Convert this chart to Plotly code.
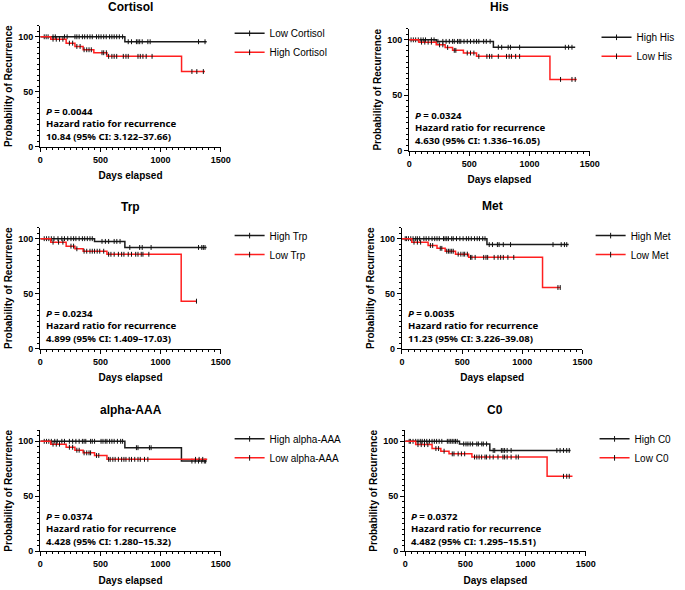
import numpy as np
import plotly.graph_objects as go

# ---------------- data ----------------
titles = ["Cortisol", "His", "Trp", "Met", "alpha-AAA", "C0"]
group_black = ["Low Cortisol", "High His", "High Trp", "High Met", "High alpha-AAA", "High C0"]
group_red = ["High Cortisol", "Low His", "Low Trp", "Low Met", "Low alpha-AAA", "Low C0"]
p_values = ["0.0044", "0.0324", "0.0234", "0.0035", "0.0374", "0.0372"]
hr_text = ["10.84 (95% CI: 3.122–37.66)", "4.630 (95% CI: 1.336–16.05)",
           "4.899 (95% CI: 1.409–17.03)", "11.23 (95% CI: 3.226–39.08)",
           "4.428 (95% CI: 1.280–15.32)", "4.482 (95% CI: 1.295–15.51)"]

# Cortisol
cortisol_black_t = [703]
cortisol_black_s = [95.5]
cortisol_black_end = 1383
cortisol_black_cens = [33, 49, 65, 106, 125, 201, 223, 288, 304, 323, 350, 369, 391, 413, 432, 467, 486,
                       505, 527, 548, 576, 595, 614, 635, 657, 684, 731, 758, 799, 812, 826, 847, 894, 913,
                       1315, 1369]
cortisol_red_t = [87, 215, 288, 356, 445, 554, 1174]
cortisol_red_s = [97.8, 94.2, 91.2, 88.2, 85.5, 82.2, 68.4]
cortisol_red_end = 1369
cortisol_red_cens = [106, 133, 160, 188, 242, 269, 304, 331, 364, 386, 405, 424, 513, 527, 549, 568, 595,
                     614, 635, 690, 712, 731, 812, 831, 853, 880, 929, 1260, 1301, 1355]

# His
his_black_t = [225, 700]
his_black_s = [98.6, 93.3]
his_black_end = 1380
his_black_cens = [16, 35, 54, 76, 98, 117, 136, 185, 207, 239, 280, 307, 334, 361, 375, 402, 416, 429, 456,
                  483, 510, 538, 560, 579, 619, 641, 673, 741, 769, 823, 842, 918, 1298, 1325, 1353]
his_red_t = [81, 225, 299, 361, 451, 560, 1170]
his_red_s = [97.9, 95.5, 93.1, 90.5, 88.1, 85.1, 64.3]
his_red_end = 1393
his_red_cens = [103, 130, 158, 185, 253, 280, 320, 375, 388, 483, 510, 538, 579, 646, 668, 687, 741, 809,
                831, 850, 885, 918, 1258, 1353, 1380]

# Trp
trp_black_t = [451, 703]
trp_black_s = [97.5, 92.0]
trp_black_end = 1382
trp_black_cens = [33, 52, 71, 92, 114, 147, 179, 201, 228, 255, 277, 296, 323, 350, 369, 391, 413, 432,
                  513, 541, 568, 614, 636, 663, 744, 826, 847, 921, 1315, 1342, 1355, 1369]
trp_red_t = [87, 215, 288, 356, 554, 1171]
trp_red_s = [96.8, 93.2, 90.8, 88.6, 85.8, 43.2]
trp_red_end = 1298
trp_red_cens = [106, 152, 188, 255, 277, 304, 364, 386, 413, 432, 451, 473, 494, 527, 568, 587, 614, 649,
                676, 695, 731, 758, 793, 812, 839, 853, 902, 1298]

# Met
met_black_t = [706]
met_black_s = [94.6]
met_black_end = 1385
met_black_cens = [27, 38, 54, 73, 92, 114, 128, 147, 182, 201, 223, 250, 272, 291, 310, 345, 358, 372, 386,
                  413, 426, 453, 481, 508, 535, 554, 576, 603, 625, 644, 671, 690, 725, 752, 793, 807, 842,
                  902, 1255, 1323, 1350, 1369]
met_red_t = [81, 217, 291, 359, 445, 554, 1168]
met_red_s = [96.8, 93.8, 91.2, 88.6, 85.9, 83.0, 55.6]
met_red_end = 1317
met_red_cens = [100, 128, 155, 236, 255, 318, 331, 372, 386, 399, 413, 426, 467, 489, 508, 521, 543, 570,
                581, 608, 679, 698, 712, 766, 798, 820, 842, 880, 929, 1296, 1315]

# alpha-AAA
aaa_black_t = [703, 1173]
aaa_black_s = [94.2, 82.0]
aaa_black_end = 1383
aaa_black_cens = [33, 52, 71, 92, 120, 141, 179, 201, 242, 269, 296, 323, 350, 364, 378, 418, 432, 451,
                  505, 521, 540, 554, 576, 595, 614, 641, 668, 684, 799, 812, 907, 921, 1260, 1287, 1315,
                  1342, 1363, 1374]
aaa_red_t = [87, 215, 288, 356, 451, 554]
aaa_red_s = [97.4, 94.6, 91.9, 89.5, 87.1, 83.6]
aaa_red_end = 1387
aaa_red_cens = [106, 133, 160, 242, 269, 304, 323, 364, 386, 405, 418, 467, 486, 568, 581, 603, 622, 649,
                676, 695, 712, 739, 758, 785, 812, 831, 866, 894, 1290, 1320, 1350]

# C0
c0_black_t = [451, 703]
c0_black_s = [97.6, 91.7]
c0_black_end = 1374
c0_black_cens = [33, 43, 65, 87, 106, 125, 141, 160, 179, 201, 223, 242, 261, 282, 304, 350, 364, 378,
                 391, 405, 418, 432, 486, 505, 521, 540, 560, 595, 608, 636, 649, 676, 731, 744, 799, 812,
                 826, 847, 880, 1260, 1287, 1315, 1342, 1363]
c0_red_t = [87, 223, 296, 364, 554, 1179]
c0_red_s = [97.0, 93.4, 91.0, 88.6, 85.7, 68.2]
c0_red_end = 1390
c0_red_cens = [106, 133, 160, 188, 255, 277, 323, 391, 405, 440, 467, 494, 576, 595, 614, 635, 663, 676,
               703, 731, 771, 812, 826, 847, 880, 921, 940, 1315, 1342, 1363]

panels = [
    (cortisol_black_t, cortisol_black_s, cortisol_black_end, cortisol_black_cens,
     cortisol_red_t, cortisol_red_s, cortisol_red_end, cortisol_red_cens),
    (his_black_t, his_black_s, his_black_end, his_black_cens,
     his_red_t, his_red_s, his_red_end, his_red_cens),
    (trp_black_t, trp_black_s, trp_black_end, trp_black_cens,
     trp_red_t, trp_red_s, trp_red_end, trp_red_cens),
    (met_black_t, met_black_s, met_black_end, met_black_cens,
     met_red_t, met_red_s, met_red_end, met_red_cens),
    (aaa_black_t, aaa_black_s, aaa_black_end, aaa_black_cens,
     aaa_red_t, aaa_red_s, aaa_red_end, aaa_red_cens),
    (c0_black_t, c0_black_s, c0_black_end, c0_black_cens,
     c0_red_t, c0_red_s, c0_red_end, c0_red_cens),
]

# ---------------- layout geometry (pixels) ----------------
W, H = 685, 590
# (left, right, bottom(y=0), top(y=110)) of each plot area
boxes = [(38, 222, 148, 26), (414, 598, 152, 29),
         (38, 222, 351.7, 229.6), (406.7, 590.7, 351.7, 229.6),
         (38, 222, 556, 434), (410, 594, 556, 434)]
title_y = [7, 7, 209, 208, 413, 413]
legend_pos = [(271, 36), (645, 40), (271, 240), (639, 240), (271, 445), (643, 445)]

BLACK = "#1a1a1a"
RED = "#ff1f1f"
FONT = "Liberation Sans"
TFONT = "Noto Sans"


def step_xy(t, s, end):
    x = [0] + list(t) + [end]
    y = [100] + list(s) + [s[-1]]
    return x, y


def surv_at(t, s, times):
    tt = np.array(t)
    ss = np.array([100] + list(s))
    idx = np.searchsorted(tt, np.array(times), side="right")
    return ss[idx]


fig = go.Figure()
annotations = []
layout = {}

for i, (bt, bs, be, bc, rt, rs, re_, rc) in enumerate(panels):
    n = i + 1
    sfx = "" if n == 1 else str(n)
    xa, ya = "x" + sfx, "y" + sfx
    lg = "legend" + sfx
    for (t, s, e, c, col, name) in [(bt, bs, be, bc, BLACK, group_black[i]),
                                     (rt, rs, re_, rc, RED, group_red[i])]:
        sx, sy = step_xy(t, s, e)
        fig.add_trace(go.Scatter(x=sx, y=sy, mode="lines", line=dict(color=col, width=1.5, shape="hv"),
                                 xaxis=xa, yaxis=ya, showlegend=False, hoverinfo="skip"))
        fig.add_trace(go.Scatter(x=c, y=surv_at(t, s, c), mode="markers",
                                 marker=dict(symbol="line-ns", size=3.5, line=dict(color="#111", width=1)),
                                 xaxis=xa, yaxis=ya, showlegend=False, hoverinfo="skip"))
        fig.add_trace(go.Scatter(x=[None], y=[None], mode="lines+markers", name=name,
                                 line=dict(color=col, width=1.5),
                                 marker=dict(symbol="line-ns", size=4, line=dict(color="#111", width=1)),
                                 xaxis=xa, yaxis=ya, legend=lg, showlegend=True))

    l, r, b, tp = boxes[i]
    layout["xaxis" + sfx] = dict(
        domain=[l / W, r / W], anchor=ya, range=[0, 1500], tickvals=[0, 500, 1000, 1500],
        showline=True, linecolor="black", linewidth=1.3, ticks="outside", ticklen=4, tickwidth=1.3,
        tickcolor="black", showgrid=False, zeroline=False,
        minor=dict(dtick=50, ticks="outside", ticklen=2, tickwidth=1, tickcolor="black", showgrid=False),
        tickfont=dict(family=FONT, size=9, color="black", weight="bold"),
        title=dict(text="<b>Days elapsed</b>", font=dict(family=FONT, size=10, color="black"), standoff=8),
    )
    layout["yaxis" + sfx] = dict(
        domain=[1 - b / H, 1 - tp / H], anchor=xa, range=[0, 110], tickvals=[0, 50, 100],
        showline=True, linecolor="black", linewidth=1.3, ticks="outside", ticklen=4, tickwidth=1.3,
        tickcolor="black", showgrid=False, zeroline=False,
        minor=dict(dtick=5, ticks="outside", ticklen=2, tickwidth=1, tickcolor="black", showgrid=False),
        tickfont=dict(family=FONT, size=9, color="black", weight="bold"),
        title=dict(text="<b>Probability of Recurrence</b>", font=dict(family=FONT, size=10, color="black"),
                   standoff=3),
    )
    lx, ly = legend_pos[i]
    layout[lg] = dict(x=(lx - 40) / W, y=1 - (ly - 17) / H, xanchor="left", yanchor="top",
                      font=dict(family=FONT, size=10, color="black"), bgcolor="rgba(0,0,0,0)",
                      itemwidth=30, tracegroupgap=0)
    # panel title
    annotations.append(dict(text="<b>" + titles[i] + "</b>", x=(l + r) / 2 / W, y=1 - title_y[i] / H,
                            xref="paper", yref="paper", showarrow=False, xanchor="center", yanchor="middle",
                            font=dict(family=FONT, size=12, color="black")))
    # statistics text
    block = ("<b><i>P</i> = " + p_values[i] + "</b><br><b>Hazard ratio for recurrence</b><br><b>"
             + hr_text[i] + "</b>")
    annotations.append(dict(text=block, x=0.02, y=20.4, xref=xa + " domain", yref=ya, showarrow=False,
                            xanchor="left", yanchor="middle", align="left",
                            font=dict(family=TFONT, size=9.6, color="black")))

fig.update_layout(**layout)
fig.update_layout(width=W, height=H, margin=dict(l=0, r=0, t=0, b=0), plot_bgcolor="white",
                  paper_bgcolor="white", annotations=annotations, showlegend=True)

fig.write_html("out.html", post_script="document.body.style.margin='0px';",
               config={"displayModeBar": False})
